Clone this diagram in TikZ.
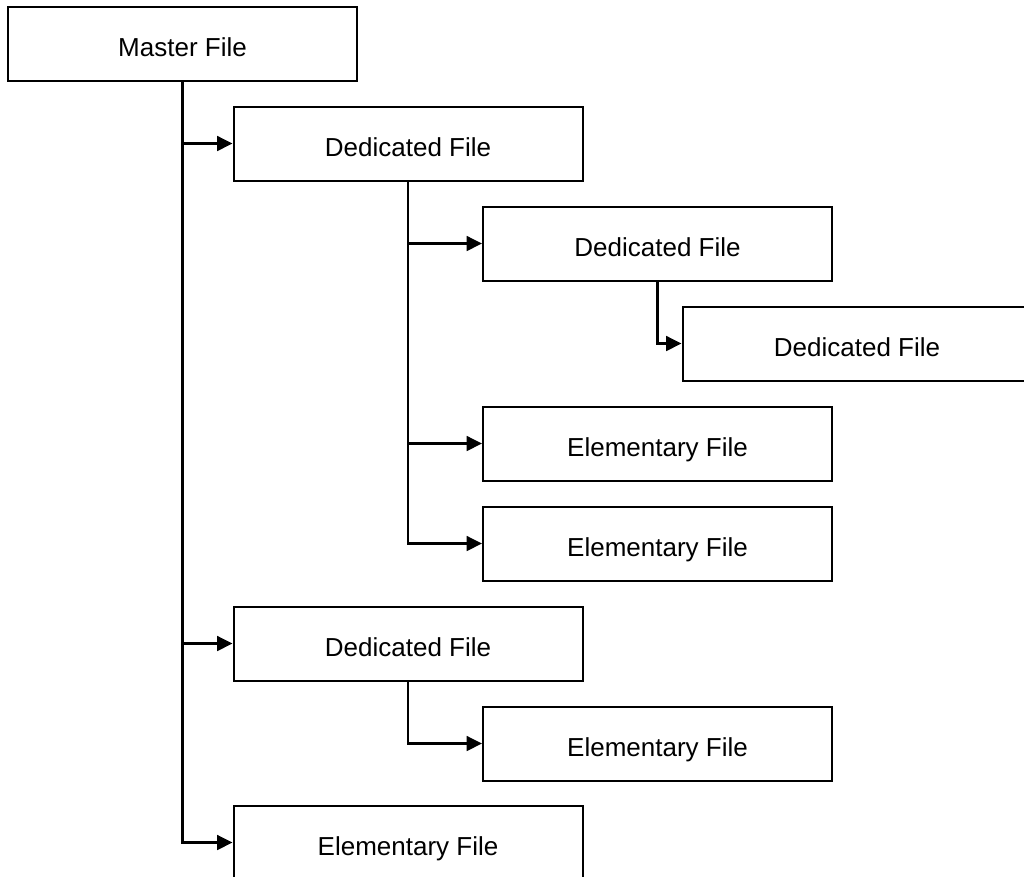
\documentclass[tikz,border=0pt]{standalone}
\usepackage{fontspec}
\setmainfont{Liberation Sans}
\usetikzlibrary{arrows.meta,positioning}

\tikzset{
  filebox/.style={draw, line width=1.5pt, rectangle, inner sep=0pt,
    minimum width=261.75pt, minimum height=55.5pt,
    font=\fontsize{19.5}{23}\selectfont, text height=20pt, text depth=0pt},
  link/.style={line width=1.9pt, -{Triangle[length=11.5pt,width=11pt]}}
}

\begin{document}
\begin{tikzpicture}[x=0.75pt,y=-0.75pt]
\clip (0,0) rectangle (1024,876);
\useasboundingbox (0,0) rectangle (1024,876);

\node[filebox] (MF) at (182.5,43.5) {Master File};

\node[filebox] (DA) at (408,143.5) {Dedicated File};
\node[filebox] (DB) at (657.5,243.5) {Dedicated File};
\node[filebox] (DC) at (857,343.5) {Dedicated File};
\node[filebox] (EA) at (657.5,443.5) {Elementary File};
\node[filebox] (EB) at (657.5,543.5) {Elementary File};

\node[filebox] (DD) at (408,643.5) {Dedicated File};
\node[filebox] (EC) at (657.5,743.5) {Elementary File};
\node[filebox] (ED) at (408,842.5) {Elementary File};

\draw[link] (MF.south) |- (DA.west);
\draw[link] (MF.south) |- (DD.west);
\draw[link] (MF.south) |- (ED.west);

\draw[link] (DA.south) |- (DB.west);
\draw[link] (DA.south) |- (EA.west);
\draw[link] (DA.south) |- (EB.west);

\draw[link] (DB.south) |- (DC.west);
\draw[link] (DD.south) |- (EC.west);

\end{tikzpicture}
\end{document}
